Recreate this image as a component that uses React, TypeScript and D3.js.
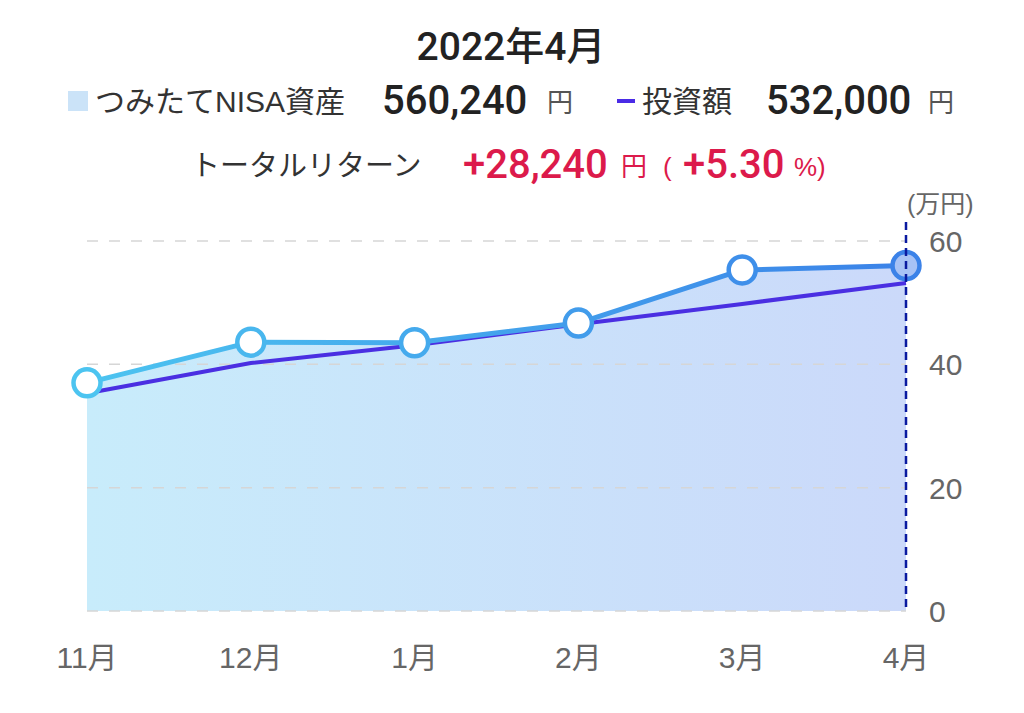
import React, { useEffect, useRef } from 'react';
import * as d3 from 'd3';

const months = ['11月', '12月', '1月', '2月', '3月', '4月'];
const assetValues = [37.0, 43.6, 43.5, 46.7, 55.3, 56.02];
const investedValues = [35.3, 40.2, 43.1, 46.5, 49.8, 53.2];
const yTicks = [0, 20, 40, 60];

const title = '2022年4月';
const assetLabel = 'つみたてNISA資産';
const assetTotal = '560,240';
const investLabel = '投資額';
const investTotal = '532,000';
const returnLabel = 'トータルリターン';
const returnAmount = '+28,240';
const returnPct = '+5.30';

const FONT = '"Liberation Sans", "Noto Sans CJK JP", sans-serif';
const NUM_FONT = 'Roboto, "Noto Sans CJK JP", sans-serif';

const App: React.FC = () => {
  const svgRef = useRef<SVGSVGElement>(null);
  const width = 1024;
  const height = 713;

  useEffect(() => {
    if (!svgRef.current) return;
    const svg = d3.select(svgRef.current);
    svg.selectAll('*').remove();

    const x = d3.scalePoint<string>().domain(months).range([87, 906]);
    const y = d3.scaleLinear().domain([0, 60]).range([611, 241]);

    const defs = svg.append('defs');
    const areaGrad = defs.append('linearGradient')
      .attr('id', 'areaGrad').attr('x1', '0%').attr('x2', '100%').attr('y1', '0%').attr('y2', '0%');
    areaGrad.append('stop').attr('offset', '0%').attr('stop-color', '#c8ecfb');
    areaGrad.append('stop').attr('offset', '100%').attr('stop-color', '#cbd9fa');

    const lineGrad = defs.append('linearGradient')
      .attr('id', 'lineGrad').attr('gradientUnits', 'userSpaceOnUse')
      .attr('x1', 87).attr('x2', 906).attr('y1', 0).attr('y2', 0);
    lineGrad.append('stop').attr('offset', '0%').attr('stop-color', '#4cc4f0');
    lineGrad.append('stop').attr('offset', '100%').attr('stop-color', '#3b82e8');

    const strokeAt = (i: number) =>
      d3.interpolateRgb('#4cc4f0', '#3b82e8')(i / (months.length - 1));

    // Area under asset line
    const area = d3.area<number>()
      .x((_, i) => x(months[i]) as number)
      .y0(y(0))
      .y1(d => y(d));
    svg.append('path')
      .datum(assetValues)
      .attr('d', area)
      .attr('fill', 'url(#areaGrad)');

    // Gridlines
    svg.selectAll('.grid')
      .data(yTicks)
      .enter().append('line')
      .attr('x1', 87)
      .attr('x2', 906)
      .attr('y1', d => y(d))
      .attr('y2', d => y(d))
      .attr('stroke', '#d6d6d6')
      .attr('stroke-width', 1.5)
      .attr('stroke-dasharray', '11,11');

    // Invested line
    const line = d3.line<number>()
      .x((_, i) => x(months[i]) as number)
      .y(d => y(d));
    svg.append('path')
      .datum(investedValues)
      .attr('d', line)
      .attr('fill', 'none')
      .attr('stroke', '#4a2fe2')
      .attr('stroke-width', 4);

    // Asset line
    svg.append('path')
      .datum(assetValues)
      .attr('d', line)
      .attr('fill', 'none')
      .attr('stroke', 'url(#lineGrad)')
      .attr('stroke-width', 5)
      .attr('stroke-linejoin', 'round');

    // Markers
    svg.selectAll('.pt')
      .data(assetValues)
      .enter().append('circle')
      .attr('cx', (_, i) => x(months[i]) as number)
      .attr('cy', d => y(d))
      .attr('r', 13.5)
      .attr('fill', (_, i) => (i === months.length - 1 ? '#a7c2f5' : '#fff'))
      .attr('stroke', (_, i) => strokeAt(i))
      .attr('stroke-width', 4.5);

    // Current month marker line
    svg.append('line')
      .attr('x1', x(months[months.length - 1]) as number)
      .attr('x2', x(months[months.length - 1]) as number)
      .attr('y1', 222)
      .attr('y2', y(0))
      .attr('stroke', '#0a1aa0')
      .attr('stroke-width', 2.5)
      .attr('stroke-dasharray', '8,5');

    // X axis labels
    svg.selectAll('.xl')
      .data(months)
      .enter().append('text')
      .attr('x', d => x(d) as number)
      .attr('y', 668)
      .attr('text-anchor', 'middle')
      .style('font-family', FONT)
      .style('font-size', '30px')
      .style('fill', '#666')
      .text(d => d);

    // Y axis labels
    svg.selectAll('.yl')
      .data(yTicks)
      .enter().append('text')
      .attr('x', 929)
      .attr('y', d => y(d) + 11)
      .style('font-family', FONT)
      .style('font-size', '30px')
      .style('fill', '#666')
      .text(d => d);

    svg.append('text')
      .attr('x', 907)
      .attr('y', 213)
      .style('font-family', FONT)
      .style('font-size', '25px')
      .style('fill', '#666')
      .text('(万円)');

    // Title
    svg.append('text')
      .attr('x', 511)
      .attr('y', 60)
      .attr('text-anchor', 'middle')
      .style('font-family', NUM_FONT)
      .style('font-size', '39px')
      .style('font-weight', 500)
      .style('fill', '#222')
      .text(title);

    const lbl = (tx: number, ty: number, s: string, size: number, family: string, weight: number, color: string) =>
      svg.append('text')
        .attr('x', tx).attr('y', ty)
        .style('font-family', family)
        .style('font-size', `${size}px`)
        .style('font-weight', weight)
        .style('fill', color)
        .text(s);

    // Legend row
    svg.append('rect')
      .attr('x', 68).attr('y', 91).attr('width', 20).attr('height', 20)
      .attr('fill', '#cbe3f8');
    lbl(95, 112, assetLabel, 30, FONT, 400, '#333');
    lbl(382, 114, assetTotal, 40, NUM_FONT, 500, '#222');
    lbl(547, 112, '円', 26, FONT, 400, '#555');
    svg.append('rect')
      .attr('x', 617).attr('y', 99).attr('width', 18).attr('height', 4)
      .attr('fill', '#4a2be6');
    lbl(642, 112, investLabel, 30, FONT, 400, '#333');
    lbl(766, 114, investTotal, 40, NUM_FONT, 500, '#222');
    lbl(928, 112, '円', 26, FONT, 400, '#555');

    // Total return row
    const red = '#dc1a4b';
    lbl(191, 176, returnLabel, 29, FONT, 400, '#333');
    lbl(463, 178, returnAmount, 40, NUM_FONT, 500, red);
    lbl(621, 176, '円', 26, FONT, 400, red);
    lbl(663, 176, '(', 26, FONT, 400, red);
    lbl(683, 178, returnPct, 40, NUM_FONT, 500, red);
    lbl(794, 176, '%)', 26, FONT, 400, red);
  }, []);

  return (
    <svg
      ref={svgRef}
      width={width}
      height={height}
      style={{ position: 'absolute', left: 0, top: 0, background: '#fff' }}
    />
  );
};

export default App;
